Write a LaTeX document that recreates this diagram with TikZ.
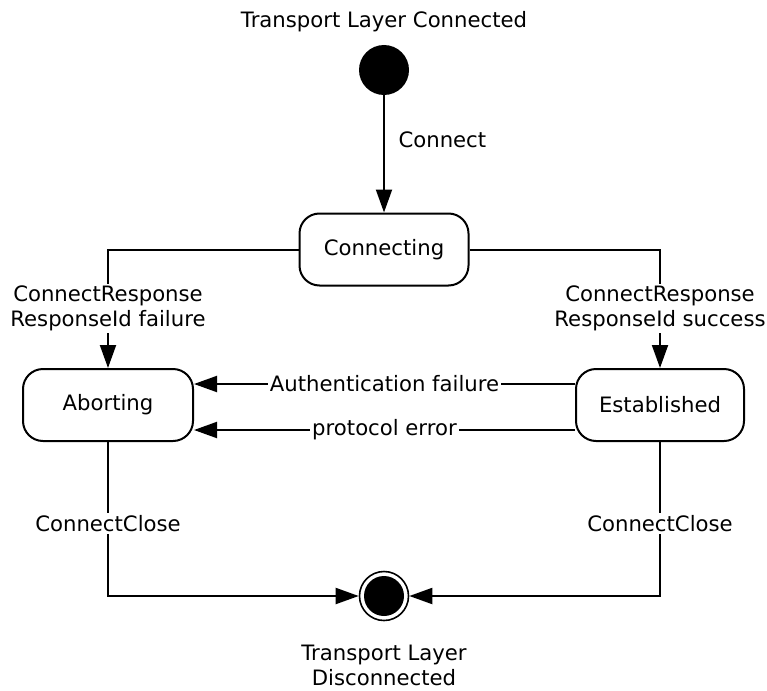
\documentclass[tikz,border=0pt]{standalone}
\usepackage{fontspec}
\setmainfont{DejaVu Sans}
\usetikzlibrary{arrows.meta}
\begin{document}
\begin{tikzpicture}[x=1pt,y=-1pt,
  font=\fontsize{21.2}{25}\selectfont,
  state/.style={draw, line width=2pt, rounded corners=20pt, minimum width=169pt, minimum height=72pt, inner sep=0pt},
  arr/.style={line width=2pt, -{Triangle[length=23pt,width=16pt]}},
  lbl/.style={fill=white, inner sep=2pt, align=center}]
\useasboundingbox (0,0) rectangle (767,690);
\node[anchor=base] (title) at (384,28) {Transport Layer Connected};
\node[circle, fill=black, minimum size=50pt, inner sep=0pt] (init) at (384,70) {};
\node[state] (connecting) at (384,249.5) {Connecting};
\node[state, minimum width=170pt] (aborting) at (108,405) {Aborting};
\node[state, minimum width=168pt] (established) at (660,405) {Established};
\node[circle, draw, line width=1.6pt, minimum size=49pt, inner sep=0pt] (final) at (384,596) {};
\fill (final.center) circle (20pt);
\node[anchor=base west] (connectlbl) at (395,147) {Connect};
\node[anchor=base, align=center] (endlbl) at (384,685) {Transport Layer\\Disconnected};

\draw[arr] (init) -- (connecting);
\coordinate (cl) at (aborting.north |- connecting.west);
\coordinate (cr) at (established.north |- connecting.east);
\draw[arr] (connecting.west) -- (cl) -- node[lbl]{ConnectResponse\\ResponseId failure} (aborting.north);
\draw[arr] (connecting.east) -- (cr) -- node[lbl]{ConnectResponse\\ResponseId success} (established.north);
\draw[arr] ([yshift=21pt]established.west) -- node[lbl]{Authentication failure} ([yshift=21pt]aborting.east);
\draw[arr] ([yshift=-25pt]established.west) -- node[lbl]{protocol error} ([yshift=-25pt]aborting.east);
\coordinate (bl) at (aborting.south |- final.west);
\coordinate (br) at (established.south |- final.east);
\draw[arr] (aborting.south) -- node[lbl, pos=0.53]{ConnectClose} (bl) -- (final.west);
\draw[arr] (established.south) -- node[lbl, pos=0.53]{ConnectClose} (br) -- (final.east);
\end{tikzpicture}
\end{document}
